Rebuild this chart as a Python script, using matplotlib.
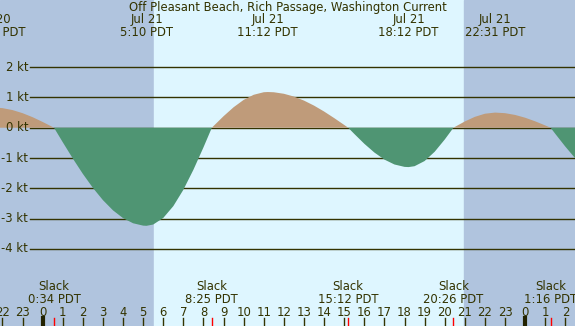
import matplotlib
matplotlib.use("Agg")
import matplotlib.pyplot as plt
import matplotlib.transforms as mtransforms

# hours relative to Jul 21 00:00 PDT, current speed in knots
hours = [-2.5, -2.0, -1.5, -1.0, -0.5, 0.0, 0.5, 0.567,
         1.0, 1.5, 2.0, 2.5, 3.0, 3.5, 4.0, 4.5, 5.0, 5.167,
         5.5, 6.0, 6.5, 7.0, 7.5, 8.0, 8.417,
         8.5, 9.0, 9.5, 10.0, 10.5, 11.0, 11.2,
         11.5, 12.0, 12.5, 13.0, 13.5, 14.0, 14.5, 15.0, 15.2,
         15.5, 16.0, 16.5, 17.0, 17.5, 18.0, 18.2,
         18.5, 19.0, 19.5, 20.0, 20.433,
         20.5, 21.0, 21.5, 22.0, 22.5, 22.517,
         23.0, 23.5, 24.0, 24.5, 25.0, 25.267,
         25.5, 26.0, 26.5, 27.0]
speed = [0.67, 0.648, 0.584, 0.482, 0.349, 0.192, 0.023, 0.0,
         -0.477, -1.015, -1.523, -1.986, -2.392, -2.729, -2.986, -3.156, -3.234, -3.24,
         -3.198, -2.981, -2.591, -2.050, -1.389, -0.649, 0.0,
         0.055, 0.381, 0.677, 0.920, 1.089, 1.173, 1.18,
         1.172, 1.122, 1.030, 0.897, 0.731, 0.536, 0.320, 0.093, 0.0,
         -0.203, -0.529, -0.818, -1.052, -1.214, -1.293, -1.30,
         -1.271, -1.100, -0.794, -0.390, 0.0,
         0.025, 0.207, 0.360, 0.463, 0.500, 0.50,
         0.481, 0.423, 0.331, 0.212, 0.076, 0.0,
         -0.202, -0.624, -1.016, -1.358]

extreme_hours = [-2.35, 5.167, 11.2, 18.2, 22.517]
extreme_labels = ["Jul 20\n21:39 PDT", "Jul 21\n5:10 PDT", "Jul 21\n11:12 PDT",
                  "Jul 21\n18:12 PDT", "Jul 21\n22:31 PDT"]
slack_hours = [0.567, 8.417, 15.2, 20.433, 25.267]
slack_labels = ["Slack\n0:34 PDT", "Slack\n8:25 PDT", "Slack\n15:12 PDT",
                "Slack\n20:26 PDT", "Slack\n1:16 PDT"]
sunrise, sunset = 5.55, 20.97
kt_levels = [2, 1, 0, -1, -2, -3, -4]

title = "Off Pleasant Beach, Rich Passage, Washington Current"
text_col = "#333300"
night = "#B0C4DE"
day = "#DEF6FF"
flood = "#BF9B7A"
ebb = "#4F9573"
fs = 8.4

fig = plt.figure(figsize=(5.75, 3.26), dpi=100)
ax = fig.add_axes([0, 0, 1, 1])
x0, x1 = -2.12, 26.48
ax.set_xlim(x0, x1)
ax.set_ylim(-6.55, 4.22)
ax.axis("off")

ax.axvspan(x0, sunrise, color=night, zorder=0)
ax.axvspan(sunrise, sunset, color=day, zorder=0)
ax.axvspan(sunset, x1, color=night, zorder=0)

for k in kt_levels:
    ax.plot([-0.63, x1], [k, k], color=text_col, lw=1.0, zorder=1)
    ax.text(-0.72, k, "%d kt" % k, ha="right", va="center", color=text_col, fontsize=fs)

ax.fill_between(hours, speed, 0, where=[s >= 0 for s in speed], color=flood,
                lw=0, interpolate=True, zorder=2)
ax.fill_between(hours, speed, 0, where=[s <= 0 for s in speed], color=ebb,
                lw=0, interpolate=True, zorder=2)

tr = mtransforms.blended_transform_factory(ax.transData, ax.transAxes)
ax.text(0.5, 1 - 7.5 / 326, title, transform=ax.transAxes, ha="center", va="center",
        color=text_col, fontsize=fs)
for h, lab in zip(extreme_hours, extreme_labels):
    ax.text(h, 1 - 25.5 / 326, lab, transform=tr, ha="center", va="center",
            color=text_col, fontsize=fs, linespacing=1.0)
for h, lab in zip(slack_hours, slack_labels):
    ax.text(h, 1 - 293 / 326, lab, transform=tr, ha="center", va="center",
            color=text_col, fontsize=fs, linespacing=1.0)
    ax.plot([h, h], [0, 8 / 326], transform=tr, color="red", lw=1, zorder=3)

for h in range(-2, 27):
    ax.text(h, 1 - 312 / 326, str(h % 24), transform=tr, ha="center", va="center",
            color=text_col, fontsize=fs)
    if h % 24 == 0:
        ax.plot([h, h], [0, 8 / 326], transform=tr, color="#222200", lw=3, zorder=3)
    else:
        ax.plot([h, h], [0, 8 / 326], transform=tr, color=text_col, lw=1, zorder=3)

fig.savefig("out.png", dpi=100)
